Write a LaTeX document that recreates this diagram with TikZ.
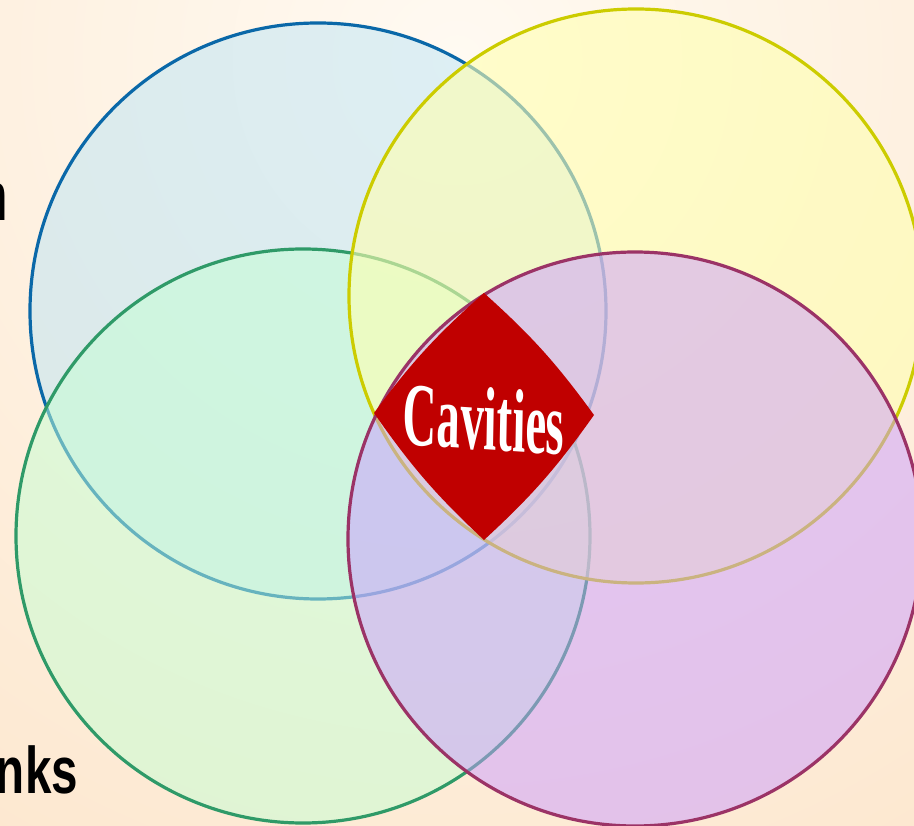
\documentclass[tikz,border=0pt]{standalone}
\usepackage{fontspec}
\setmainfont{Liberation Serif}
\newfontfamily\labelfont{Liberation Sans}
\definecolor{bgin}{HTML}{FFFAF2}
\definecolor{bgout}{HTML}{FDE8D0}
\definecolor{cblue}{HTML}{0A68A8}
\definecolor{fblue}{RGB}{188,229,246}
\definecolor{cgreen}{HTML}{2F9A68}
\definecolor{fgreen}{RGB}{196,255,212}
\definecolor{cyellow}{HTML}{CCCC00}
\definecolor{fyellow}{RGB}{255,255,176}
\definecolor{cpurple}{HTML}{9B3366}
\definecolor{fpurple}{RGB}{202,155,255}
\definecolor{cavred}{HTML}{C00000}
\begin{document}
\begin{tikzpicture}[x=1pt,y=-1pt,
  ring/.style={line width=3.2pt, fill opacity=0.5},
  edgetext/.style={anchor=base east, inner sep=0pt, text=black, xscale=0.72}]
\useasboundingbox (0,0) rectangle (914,826);
\begin{scope}
\clip (0,0) rectangle (914,826);
\shade[inner color=bgin, outer color=bgout] (457,60) circle (900);
\end{scope}
% circles
\draw[ring, draw=cblue, fill=fblue] (318,311) circle (288);
\draw[ring, draw=cgreen, fill=fgreen] (303,536) circle (287);
\draw[ring, draw=cyellow, fill=fyellow, fill opacity=0.6] (636,296) circle (287);
\draw[ring, draw=cpurple, fill=fpurple] (635,539) circle (287);
% centre shape
\coordinate (dT) at (484,293);
\coordinate (dR) at (594,415);
\coordinate (dB) at (484,540);
\coordinate (dL) at (374,413);
\fill[cavred] (dT) to[bend left=6] (dR) to[bend left=6] (dB) to[bend left=6] (dL) to[bend left=6] (dT) -- cycle;
\node[text=white, font=\fontsize{90}{90}\selectfont\bfseries, xscale=0.52, rotate=-2] (cav) at (484,419) {Cavities};
% cut-off side texts
\node[edgetext, font=\labelfont\fontsize{69}{69}\selectfont] (tn) at (8,221) {n};
\node[edgetext, font=\labelfont\bfseries\fontsize{66}{66}\selectfont] (tnks) at (78,793) {nks};
\end{tikzpicture}
\end{document}
